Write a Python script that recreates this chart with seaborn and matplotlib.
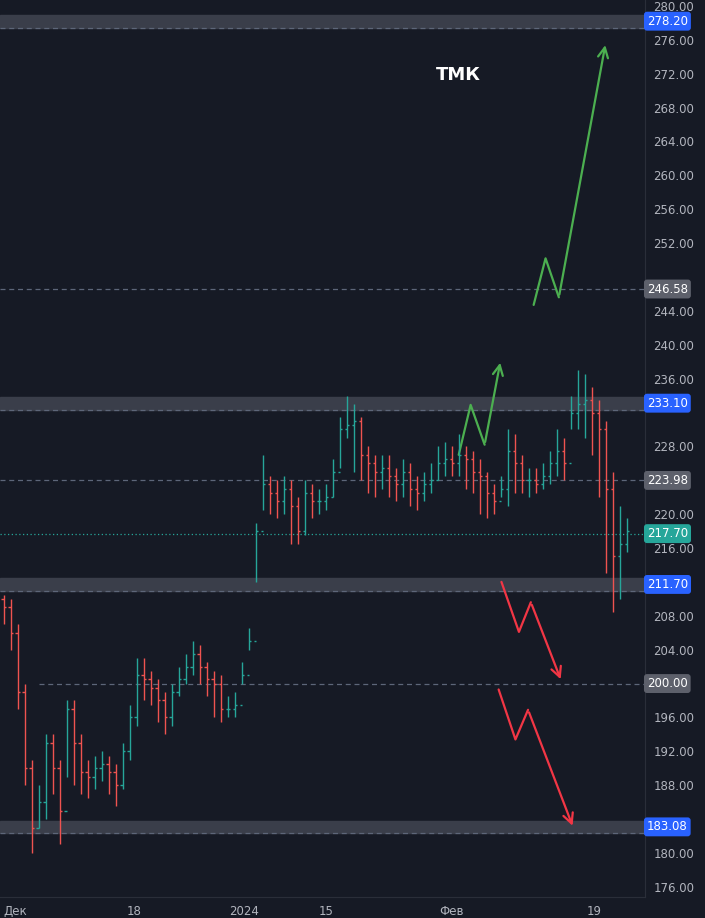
import numpy as np
import pandas as pd
import matplotlib.pyplot as plt
import seaborn as sns

# OHLC data
closes = [209, 206, 199, 190, 183, 186, 193, 190, 185, 197,
          193, 189.5, 189, 190, 190.5, 189.5, 188, 192, 196, 201,
          200.5, 199.5, 198, 196, 199, 200.5, 202, 203.5, 202, 200.5,
          200, 197, 197, 197.5, 201, 205, 218, 223.5, 222.5, 221.5,
          223, 221, 218, 222.5, 221.5, 221.5, 222, 225, 230, 230.5,
          231, 227, 226, 225, 225.5, 224.5, 223.5, 225, 223, 222.5,
          223.5, 224, 226, 226.5, 226, 227, 226.5, 225, 224.5, 222.5,
          221.5, 223, 227.5, 226, 224, 224, 223.5, 224.5, 226, 227.5,
          226, 232, 233, 233.5, 232, 230, 223, 215, 216.5, 218]
highs = [210.5, 210, 207, 200, 191, 188, 194, 194, 191, 198,
         198, 194, 191, 191.5, 192, 191.5, 190.5, 193, 197.5, 203,
         203, 201.5, 200.5, 199, 200, 202, 203.5, 205, 204.5, 202.5,
         201.5, 201, 198.5, 199, 202.5, 206.5, 219, 227, 224.5, 224,
         224.5, 224, 222, 224, 223.5, 223, 223.5, 226.5, 231.5, 234,
         233, 231.5, 228, 227, 227, 227, 225.5, 226.5, 226, 224.5,
         225, 226, 228, 228.5, 228, 229.5, 228, 227.5, 226.5, 225,
         223.5, 224.5, 230, 229.5, 227, 225.5, 225.5, 226, 227.5, 230,
         229, 234, 237, 236.5, 235, 233.5, 231, 225, 221, 219.5]
lows = [207, 204, 197, 188, 180, 183, 184, 187, 181, 189,
        188, 187, 186.5, 187.5, 188.5, 187, 185.5, 187.5, 191, 195,
        198, 197.5, 195.5, 194, 195, 198.5, 200, 201, 200, 198.5,
        196, 195.5, 196, 196, 200, 204, 212, 220.5, 220, 219.5,
        220, 216.5, 216.5, 217.5, 219.5, 220, 220.5, 222, 225.5, 229,
        225, 224, 222.5, 222, 223, 222, 221.5, 222, 221, 220.5,
        221.5, 222.5, 224, 224.5, 224.5, 224.5, 223, 222.5, 220, 219.5,
        220, 222, 221, 222.5, 222.5, 222, 222.5, 223, 223.5, 224.5,
        224, 230, 230, 229, 227, 222, 213, 208.5, 210, 215.5]
first_open = 210

date_labels = ['Дек', '18', '2024', '15', 'Фев', '19']
date_pos = [1.7, 18.6, 34.3, 46, 63.9, 84.3]

zone_levels = [278.20, 233.10, 211.70, 183.08]
dash_levels = [246.58, 223.98, 200.00]
last_price = 217.70

green_paths = [([65, 66.7, 68.7, 71], [227.0, 232.9, 228.2, 238.2]),
               ([75.7, 77.4, 79.3, 86], [244.7, 250.2, 245.6, 275.7])]
red_paths = [([71.1, 73.6, 75.3, 79.7], [212.0, 206.1, 209.6, 200.2]),
             ([70.7, 73.1, 74.9, 81.4], [199.3, 193.4, 196.9, 182.9])]

BG = '#161a25'
UP = '#26a69a'
DOWN = '#ef5350'
TXT = '#b2b5be'

df = pd.DataFrame({'close': closes, 'high': highs, 'low': lows})
df['open'] = [first_open] + closes[:-1]
df['x'] = np.arange(len(df))

sns.set_style('dark', {'axes.facecolor': BG, 'figure.facecolor': BG})
plt.rcParams['font.family'] = ['DejaVu Sans']

fig = plt.figure(figsize=(7.05, 9.18), dpi=100)
ax = fig.add_axes([0, 21 / 918, 645 / 705, 1 - 21 / 918])
ax.set_facecolor(BG)

# zones and levels
for lv in zone_levels:
    ax.axhspan(lv - 0.75, lv + 0.75, color='#3a3e4a', zorder=1)
    ax.axhline(lv - 0.75, color='#5d6679', ls=(0, (4, 3)), lw=0.9, zorder=2)
for lv in dash_levels:
    ax.axhline(lv, xmin=0.06 if lv == 200 else 0, color='#5d6679', ls=(0, (4, 3)), lw=0.9, zorder=2)
ax.axhline(last_price, color=UP, ls=(0, (1, 2)), lw=0.9, zorder=2)

# OHLC bars
colors = [UP if c >= o else DOWN for o, c in zip(df['open'], df['close'])]
ax.vlines(df['x'], df['low'], df['high'], colors=colors, lw=1.0, zorder=3)
ax.hlines(df['open'], df['x'] - 0.3, df['x'], colors=colors, lw=1.0, zorder=3)
ax.hlines(df['close'], df['x'], df['x'] + 0.3, colors=colors, lw=1.0, zorder=3)

# arrows
for xs, ys in green_paths:
    ax.annotate('', xy=(xs[-1], ys[-1]), xytext=(xs[-2], ys[-2]),
                arrowprops=dict(arrowstyle='->', color='#4caf50', lw=1.6, mutation_scale=18))
    ax.plot(xs[:-1], ys[:-1], color='#4caf50', lw=1.6)
for xs, ys in red_paths:
    ax.annotate('', xy=(xs[-1], ys[-1]), xytext=(xs[-2], ys[-2]),
                arrowprops=dict(arrowstyle='->', color='#f23645', lw=1.6, mutation_scale=18))
    ax.plot(xs[:-1], ys[:-1], color='#f23645', lw=1.6)

ax.text(65, 271.9, 'ТМК', color='white', fontsize=13, fontweight='bold', ha='center', va='center')

# price labels on the axis; tick labels hidden behind them are left out
labels = [(v, '#2962ff') for v in zone_levels] + [(v, '#5d606b') for v in dash_levels] + [(last_price, UP)]
tick_vals = [v for v in np.arange(176, 281, 4) if all(abs(v - lv) > 1.6 for lv, _ in labels)]

ax.set_xlim(-0.5, 91.6)
ax.set_ylim(174.8, 280.7)
ax.yaxis.tick_right()
ax.set_yticks(tick_vals)
ax.set_yticklabels([f'{v:.2f}' for v in tick_vals], color=TXT, fontsize=8.5)
ax.set_xticks(date_pos)
ax.set_xticklabels(date_labels, color=TXT, fontsize=8.5)
ax.tick_params(length=0, pad=6)
for s in ax.spines.values():
    s.set_visible(False)
ax.spines['right'].set_visible(True)
ax.spines['right'].set_color('#2a2e39')
ax.spines['bottom'].set_visible(True)
ax.spines['bottom'].set_color('#2a2e39')

for v, c in labels:
    ax.text(1.003, v, f'{v:.2f}', transform=ax.get_yaxis_transform(), color='white', fontsize=8.5,
            va='center', ha='left', bbox=dict(boxstyle='round,pad=0.25', fc=c, ec='none'))

fig.savefig('out.png', dpi=100, facecolor=BG)
